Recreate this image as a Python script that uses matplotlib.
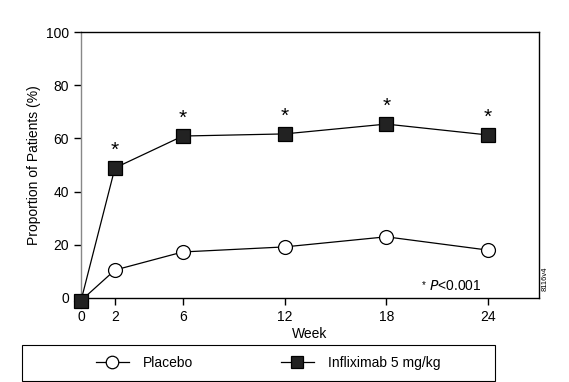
import matplotlib
matplotlib.use("Agg")
from matplotlib import pyplot as plt
from matplotlib.patches import Rectangle

plt.rcParams['font.family'] = ['Liberation Sans', 'DejaVu Sans']

weeks = [0, 2, 6, 12, 18, 24]
placebo = [-1, 10.5, 17.3, 19.2, 23.0, 18.0]
infliximab = [-1, 48.9, 60.9, 61.7, 65.4, 61.3]
star_weeks = [2, 6, 12, 18, 24]
x_ticks = [0, 2, 6, 12, 18, 24]
y_ticks = [0, 20, 40, 60, 80, 100]

fig = plt.figure(figsize=(5.69, 3.82), dpi=100)
ax = fig.add_axes([0.1424, 0.22, 0.8046, 0.696])

ax.plot(weeks, placebo, "-o", color="black", lw=0.9, ms=10, mfc="white",
        mec="black", mew=0.9, clip_on=False, zorder=3, label="Placebo")
ax.plot(weeks, infliximab, "-s", color="black", lw=0.9, ms=10, mfc="#222222",
        mec="black", mew=0.9, clip_on=False, zorder=4, label="Infliximab 5 mg/kg")

for w in star_weeks:
    y = infliximab[weeks.index(w)]
    ax.text(w, y + 6.5, "*", ha="center", va="center", fontsize=15)

ax.text(20.5, 4.5, "* ", ha="right", va="center", fontsize=7)
ax.text(20.5, 4.5, "$\\it{P}$<0.001", ha="left", va="center", fontsize=10,
        family=['Liberation Sans'])
fig.text(0.958, 0.27, "8116v4", rotation=90, fontsize=5.5, ha="center", va="center")

ax.set_xlim(0, 27)
ax.set_ylim(0, 100)
ax.set_xticks(x_ticks)
ax.set_yticks(y_ticks)
ax.tick_params(labelsize=10, length=5, width=1, direction="out")
for sp in ax.spines.values():
    sp.set_linewidth(1)
ax.spines["left"].set_color("#888888")
ax.set_xlabel("Week", fontsize=10, labelpad=2)
ax.set_ylabel("Proportion of Patients (%)", fontsize=10, labelpad=4)

# legend box drawn separately so the entries can sit centred inside it
box = Rectangle((0.039, 0.003), 0.831, 0.094, transform=fig.transFigure,
                fill=False, edgecolor="black", lw=0.8)
fig.patches.append(box)
fig.legend(loc="center", bbox_to_anchor=(0.471, 0.05), ncol=2, frameon=False,
           fontsize=10, handlelength=2.4, handletextpad=1.0, columnspacing=6.3,
           markerscale=0.9, borderaxespad=0)

fig.savefig("out.png", dpi=100)
